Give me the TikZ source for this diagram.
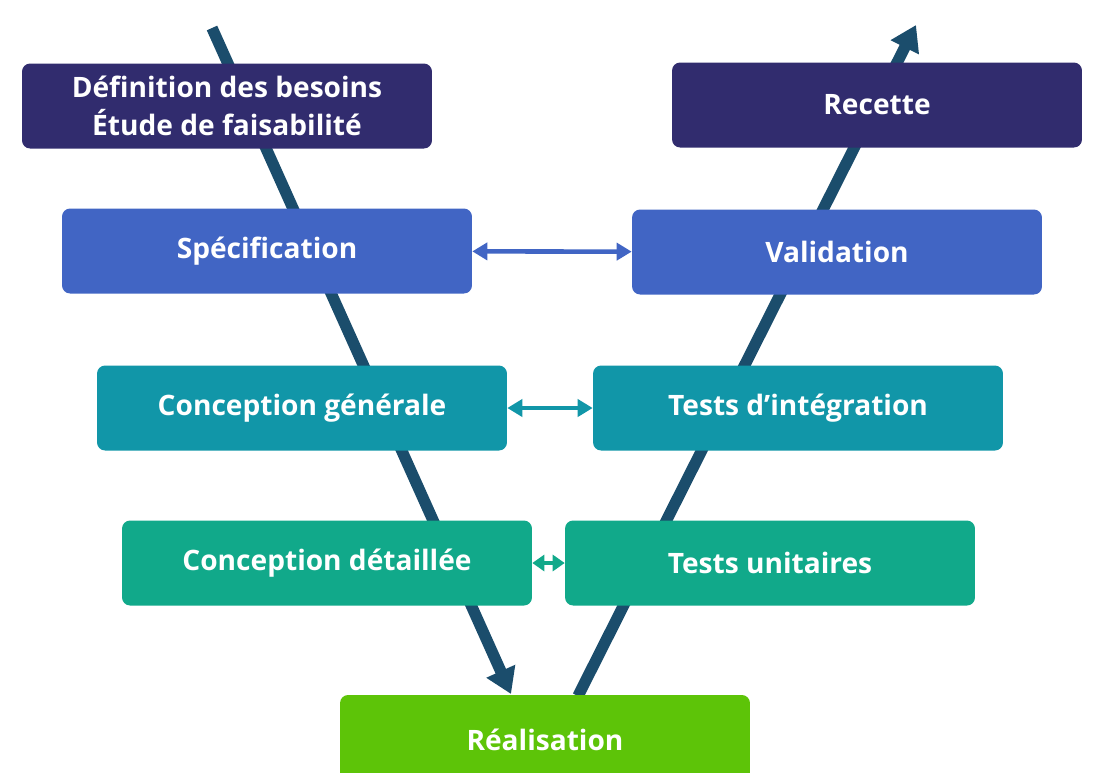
\documentclass[tikz,border=0pt]{standalone}
\usepackage{fontspec}
\setmainfont{Open Sans}
\usetikzlibrary{arrows.meta}
\definecolor{navy}{HTML}{312C6E}
\definecolor{specblue}{HTML}{4165C4}
\definecolor{teal}{HTML}{1196A8}
\definecolor{sea}{HTML}{11A98A}
\definecolor{leaf}{HTML}{5DC408}
\definecolor{vline}{HTML}{1B4D6C}

\begin{document}
\begin{tikzpicture}[x=0.02cm,y=-0.02cm,
  box/.style={rounded corners=0.16cm, minimum width=8.2cm, minimum height=1.7cm,
    text=white, align=center, font=\fontsize{16}{21.5}\selectfont\bfseries},
  vleg/.style={draw=vline, line width=6.5pt, -{Triangle[length=0.5cm,width=0.6cm]}},
  link/.style={line width=2.6pt, {Triangle[length=0.3cm,width=0.34cm]}-{Triangle[length=0.3cm,width=0.34cm]}},
  shortlink/.style={line width=2.6pt, {Triangle[length=0.24cm,width=0.32cm]}-{Triangle[length=0.24cm,width=0.32cm]}}]
\clip (0,0) rectangle (1094,772);
% the V behind the boxes
\coordinate (ltop) at (212,28);
\coordinate (lbot) at (511,694);
\coordinate (rbot) at (578,696);
\coordinate (rtop) at (916,25);
\draw[vleg] (ltop) -- (lbot);
\draw[vleg] (rbot) -- (rtop);
% phases
\node[box, fill=navy] (def) at (227,106) {Définition des besoins\\Étude de faisabilité};
\node[box, fill=navy] (rec) at (877,105) {Recette};
\node[box, fill=specblue] (spec) at (267,251) {Spécification};
\node[box, fill=specblue] (val) at (837,252) {Validation};
\node[box, fill=teal] (cg) at (302,408) {Conception générale};
\node[box, fill=teal] (ti) at (798,408) {Tests d’intégration};
\node[box, fill=sea] (cd) at (327,563) {Conception détaillée};
\node[box, fill=sea] (tu) at (770,563) {Tests unitaires};
\node[box, fill=leaf, minimum height=1.8cm] (real) at (545,740) {Réalisation};
% links between the two branches
\draw[link, specblue] (spec) -- (val);
\draw[link, teal] (cg) -- (ti);
\draw[shortlink, sea] (cd) -- (tu);
\end{tikzpicture}
\end{document}
